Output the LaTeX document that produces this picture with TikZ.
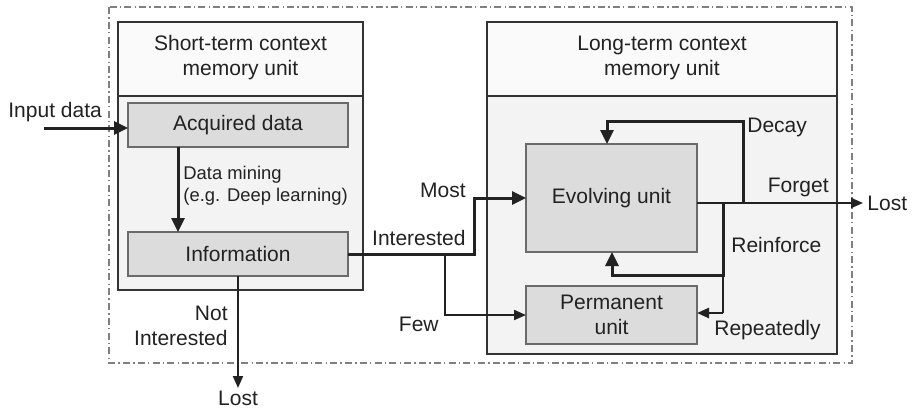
\documentclass[tikz,border=0pt]{standalone}
\usepackage{fontspec}
\setmainfont{Liberation Sans}
\usetikzlibrary{arrows.meta}

\definecolor{ink}{HTML}{222222}
\definecolor{frame}{HTML}{333333}
\definecolor{unitfill}{HTML}{DCDCDC}
\definecolor{unitedge}{HTML}{6A6A6A}
\definecolor{bodyfill}{HTML}{F3F3F3}
\definecolor{headfill}{HTML}{FAFAFA}
\definecolor{outline}{HTML}{808080}

\tikzset{
  bigtxt/.style={font=\fontsize{10.5pt}{12.5pt}\selectfont, text=ink, inner sep=0pt},
  smalltxt/.style={font=\fontsize{9.2pt}{11pt}\selectfont, text=ink, inner sep=0pt},
  container/.style={draw=frame, line width=1.2pt, fill=bodyfill, outer sep=0pt, inner sep=0pt},
  unitbox/.style={draw=unitedge, line width=0.9pt, fill=unitfill, outer sep=0pt, inner sep=0pt,
    font=\fontsize{10.5pt}{12.5pt}\selectfont, text=ink, align=center},
  heavyflow/.style={draw=ink, line width=1.5pt, -{Triangle[length=7pt,width=6.5pt]}},
  lightflow/.style={draw=ink, line width=1pt, -{Triangle[length=6pt,width=5pt]}},
  lightline/.style={draw=ink, line width=1pt},
}

\begin{document}
\begin{tikzpicture}[x=0.5pt, y=-0.5pt]
\useasboundingbox[fill=white] (0,0) rectangle (915,413);

% dash-dot boundary of the whole system
\draw[outline, line width=0.6pt, dash pattern=on 3.5pt off 1.6pt on 0.7pt off 1.6pt]
  (109,7) rectangle (852,363);

% helper points for title bands and routed connectors
\coordinate (band) at (0,96);
\coordinate (inp) at (44,128);
\coordinate (dm) at (178,0);
\coordinate (most) at (474,0);
\coordinate (few) at (445,0);
\coordinate (fg) at (697,203);
\coordinate (fgend) at (863,203);
\coordinate (dec) at (743,203);
\coordinate (dectop) at (743,121);
\coordinate (decx) at (607,0);
\coordinate (rein) at (723,203);
\coordinate (reinturn) at (723,275);
\coordinate (reinx) at (612,0);
\coordinate (repturn) at (723,313);
\coordinate (lostend) at (238,388);

% short-term memory container with its title band
\node[container, minimum width=122.5pt, minimum height=134pt] (stm) at (240.5,156) {};
\fill[headfill] ([shift={(0.6pt,-0.6pt)}]stm.north west) rectangle ([xshift=-0.6pt]stm.east |- band);
\draw[frame, line width=1.2pt] (stm.north west) rectangle (stm.south east);
\draw[frame, line width=1.2pt] (stm.west |- band) -- (stm.east |- band);
\node[bigtxt, align=center] (stmtitle) at (240.5,58) {Short-term context\\memory unit};

% long-term memory container with its title band
\node[container, minimum width=175pt, minimum height=166pt] (ltm) at (662,188) {};
\fill[headfill] ([shift={(0.6pt,-0.6pt)}]ltm.north west) rectangle ([xshift=-0.6pt]ltm.east |- band);
\draw[frame, line width=1.2pt] (ltm.north west) rectangle (ltm.south east);
\draw[frame, line width=1.2pt] (ltm.west |- band) -- (ltm.east |- band);
\node[bigtxt, align=center] (ltmtitle) at (662,58) {Long-term context\\memory unit};

% processing units
\node[unitbox, minimum width=110pt, minimum height=22pt] (acq) at (238,125) {Acquired data};
\node[unitbox, minimum width=110pt, minimum height=22pt] (info) at (238,254) {Information};
\node[unitbox, minimum width=85.5pt, minimum height=54pt] (evo) at (611.5,198) {Evolving unit};
\node[unitbox, minimum width=85.5pt, minimum height=29pt] (perm) at (611.5,315) {Permanent\\unit};

% input side
\node[bigtxt, anchor=west] (inlbl) at (8,112) {Input data};
\draw[heavyflow] (inp) -- (inp -| acq.west);
\draw[heavyflow] (acq.south -| dm) -- (info.north -| dm);
\node[smalltxt, anchor=west, align=left] (dmlbl) at (183,186) {Data mining\\(e.g. Deep learning)};

% not interested: discarded
\draw[lightflow] (info.south) -- (lostend);
\node[bigtxt, anchor=north] (lost1) at (238,391) {Lost};
\node[bigtxt, anchor=east, align=right] (notlbl) at (228,326) {Not\\Interested};

% interested: most to evolving unit, few to permanent unit
\draw[heavyflow] (info.east) -- (info.east -| most) |- (evo.west);
\draw[lightflow] (info.east -| few) |- (perm.west);
\node[bigtxt, anchor=east] (mostlbl) at (466,190) {Most};
\node[bigtxt, anchor=east] (intlbl) at (466,238) {Interested};
\node[bigtxt, anchor=east] (fewlbl) at (439,324) {Few};

% forgetting and decay
\draw[lightflow] (fg) -- (fgend);
\node[bigtxt, anchor=west] (lost2) at (867,203) {Lost};
\node[bigtxt, anchor=east] (fglbl) at (829,187) {Forget};
\draw[heavyflow] (dec) -- (dectop) -| (evo.north -| decx);
\node[bigtxt, anchor=west] (declbl) at (747,127) {Decay};

% reinforcement
\draw[heavyflow] (rein) -- (reinturn) -| (evo.south -| reinx);
\draw[lightline, line width=1.2pt] (reinturn) -- (repturn);
\draw[lightflow, line width=1.2pt] (repturn) -- (perm.east |- repturn);
\node[bigtxt, anchor=west] (reinlbl) at (731,245) {Reinforce};
\node[bigtxt, anchor=east] (replbl) at (821,330) {Repeatedly};
\end{tikzpicture}
\end{document}
